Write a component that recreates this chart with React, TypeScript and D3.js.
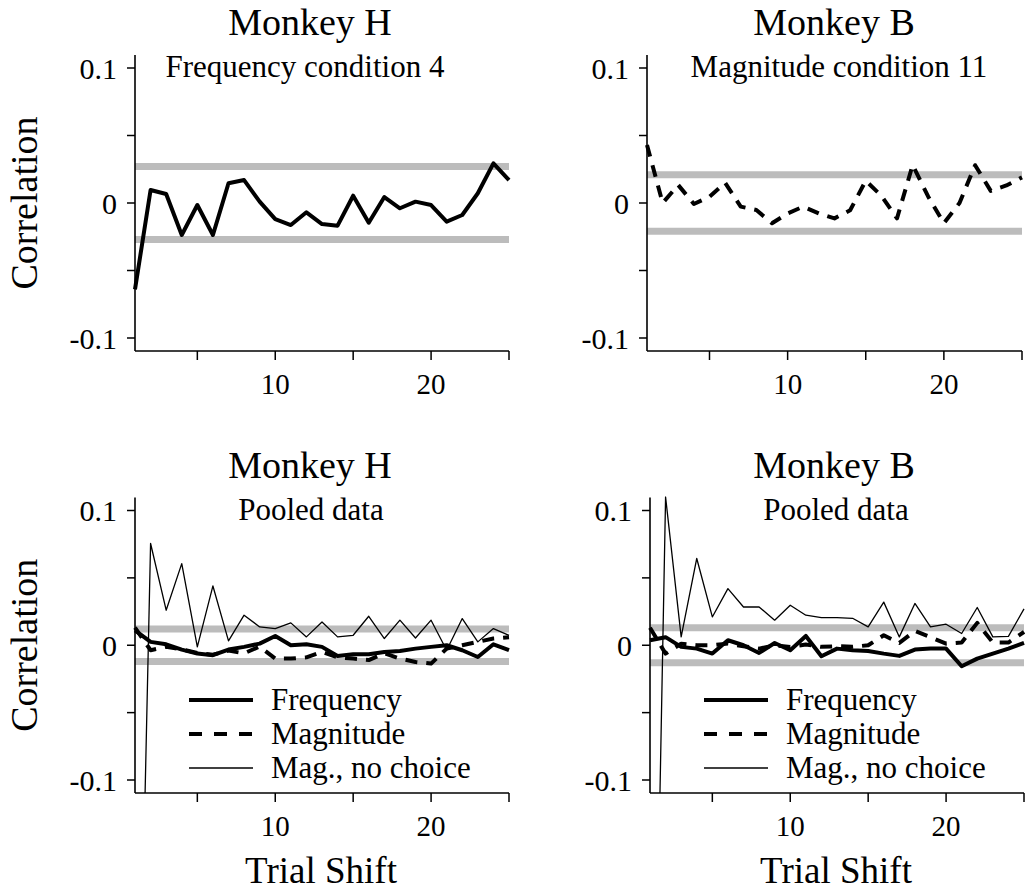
import React from "react";
import * as d3 from "d3";

const shifts = [1, 2, 3, 4, 5, 6, 7, 8, 9, 10, 11, 12, 13, 14, 15, 16, 17, 18, 19, 20, 21, 22, 23, 24, 25];

const hFreqCond4 = [-0.064, 0.0096, 0.0067, -0.0237, -0.0015, -0.0237, 0.0146, 0.017, 0.001, -0.012, -0.0163, -0.0069, -0.0156, -0.0168, 0.0054, -0.0146, 0.0044, -0.0039, 0.001, -0.0015, -0.0138, -0.0089, 0.0072, 0.0294, 0.017];
const bMagCond11 = [0.043, 0.0, 0.0133, -0.0007, 0.0046, 0.015, -0.0027, -0.0052, -0.015, -0.0077, -0.0027, -0.0077, -0.0114, -0.0054, 0.0165, 0.0054, -0.0114, 0.0281, 0.0047, -0.015, 0.0, 0.028, 0.009, 0.013, 0.019];

const hPooledFreq = [0.011, 0.0025, 0.0007, -0.0032, -0.0062, -0.0074, -0.0032, -0.0012, 0.0012, 0.0069, 0, 0.0007, -0.0012, -0.0079, -0.0067, -0.0067, -0.005, -0.0042, -0.0025, -0.0012, 0, -0.0037, -0.0087, 0.0007, -0.0037];
const hPooledMag = [0.013, -0.0037, -0.0012, -0.003, -0.0057, -0.007, -0.004, -0.006, -0.001, -0.0099, -0.0099, -0.009, -0.005, -0.009, -0.0099, -0.011, -0.006, -0.0099, -0.0124, -0.0136, -0.0025, 0, 0.0025, 0.005, 0.006];
const hPooledNoChoice = [-0.45, 0.0755, 0.026, 0.0606, -0.0012, 0.044, 0.0032, 0.0223, 0.0136, 0.0124, 0.0166, 0.0062, 0.0173, 0.0062, 0.0074, 0.0215, 0.005, 0.0186, 0.0054, 0.0186, -0.0037, 0.0198, 0.0025, 0.0124, 0.0074];

const bPooledFreq = [0.0037, 0.006, -0.0012, -0.0025, -0.0062, 0.0037, 0, -0.0057, 0.0017, -0.0037, 0.0069, -0.0082, -0.0025, -0.0037, -0.0042, -0.0062, -0.0079, -0.0032, -0.0025, -0.0025, -0.0156, -0.0099, -0.0062, -0.0025, 0.0017];
const bPooledMag = [0.013, -0.0062, 0.0012, 0, 0, 0.0012, -0.0007, -0.0025, 0, -0.0012, 0.0005, -0.0012, -0.0007, -0.0012, 0, 0.0074, 0.0017, 0.0106, 0.006, 0.0012, 0.002, 0.0166, 0.002, 0.002, 0.0099];
const bPooledNoChoice = [-0.5, 0.11, 0.0062, 0.0644, 0.021, 0.042, 0.0284, 0.0284, 0.0186, 0.0297, 0.0223, 0.0205, 0.0205, 0.02, 0.0136, 0.032, 0.0062, 0.031, 0.0136, 0.0156, 0.0087, 0.028, 0.0062, 0.0066, 0.027];

const yTicks = [-0.1, -0.05, 0, 0.05, 0.1];
const yTickLabels = ["-0.1", "", "0", "", "0.1"];
const xTicks = [5, 10, 15, 20, 25];
const xTickLabels = ["", "10", "", "20", ""];
const legendNames = ["Frequency", "Magnitude", "Mag., no choice"];

type Series = { values: number[]; kind: "freq" | "mag" | "nochoice" };
type Panel = {
  id: string;
  x0: number; x1: number; yPos: number; yNeg: number;
  title: string; subtitle: string; titleX: number; subX: number;
  band: number; series: Series[]; legend: boolean; xLabel: boolean;
};

const FONT = "'Liberation Serif', 'Times New Roman', serif";

const panels: Panel[] = [
  { id: "tl", x0: 135, x1: 509, yPos: 68, yNeg: 338, title: "Monkey H", subtitle: "Frequency condition 4", titleX: 310, subX: 305, band: 0.027, series: [{ values: hFreqCond4, kind: "freq" }], legend: false, xLabel: false },
  { id: "tr", x0: 647, x1: 1022, yPos: 68, yNeg: 338, title: "Monkey B", subtitle: "Magnitude condition 11", titleX: 834, subX: 839, band: 0.021, series: [{ values: bMagCond11, kind: "mag" }], legend: false, xLabel: false },
  { id: "bl", x0: 135, x1: 509, yPos: 510.5, yNeg: 780, title: "Monkey H", subtitle: "Pooled data", titleX: 310, subX: 311, band: 0.012, series: [{ values: hPooledNoChoice, kind: "nochoice" }, { values: hPooledMag, kind: "mag" }, { values: hPooledFreq, kind: "freq" }], legend: true, xLabel: true },
  { id: "br", x0: 650, x1: 1024, yPos: 510.5, yNeg: 780, title: "Monkey B", subtitle: "Pooled data", titleX: 834, subX: 836, band: 0.013, series: [{ values: bPooledNoChoice, kind: "nochoice" }, { values: bPooledMag, kind: "mag" }, { values: bPooledFreq, kind: "freq" }], legend: true, xLabel: true },
];

function styleFor(kind: string) {
  if (kind === "freq") return { strokeWidth: 4, dash: undefined as string | undefined };
  if (kind === "mag") return { strokeWidth: 4, dash: "12,9" };
  return { strokeWidth: 1.3, dash: undefined as string | undefined };
}

function PanelView({ p }: { p: Panel }) {
  const x = d3.scaleLinear().domain([1, 25]).range([p.x0, p.x1]);
  const y = d3.scaleLinear().domain([-0.1, 0.1]).range([p.yNeg, p.yPos]);
  const axisBottom = p.yNeg + 13;
  const axisTop = p.yPos - 13;
  const line = d3.line<number>().x((_, i) => x(shifts[i])).y((v) => y(v));
  const titleBase = p.yPos - 33;
  const subBase = p.yPos + 9;
  return (
    <g>
      <defs>
        <clipPath id={`clip-${p.id}`}>
          <rect x={p.x0 - 4} y={axisTop - 10} width={p.x1 - p.x0 + 12} height={axisBottom - axisTop + 10} />
        </clipPath>
      </defs>
      <text x={p.titleX} y={titleBase} textAnchor="middle" fontFamily={FONT} fontSize={38}>{p.title}</text>
      <text x={p.subX} y={subBase} textAnchor="middle" fontFamily={FONT} fontSize={31}>{p.subtitle}</text>
      {[p.band, -p.band].map((b, i) => (
        <line key={i} x1={x(1)} x2={x(25)} y1={y(b)} y2={y(b)} stroke="#bcbcbc" strokeWidth={7} />
      ))}
      <g clipPath={`url(#clip-${p.id})`}>
        {p.series.map((s, i) => {
          const st = styleFor(s.kind);
          return (
            <path key={i} d={line(s.values) || ""} fill="none" stroke="#000" strokeWidth={st.strokeWidth}
              strokeDasharray={st.dash} strokeLinejoin="round" strokeLinecap="butt" />
          );
        })}
      </g>
      <line x1={p.x0} x2={p.x0} y1={axisTop} y2={axisBottom} stroke="#000" strokeWidth={1.6} />
      <line x1={p.x0} x2={x(25)} y1={axisBottom} y2={axisBottom} stroke="#000" strokeWidth={1.6} />
      {yTicks.map((t, i) => (
        <g key={t}>
          <line x1={p.x0 - 8} x2={p.x0} y1={y(t)} y2={y(t)} stroke="#000" strokeWidth={1.5} />
          {yTickLabels[i] && (
            <text x={p.x0 - 18} y={y(t)} dy="0.35em" textAnchor="end" fontFamily={FONT} fontSize={30}>{yTickLabels[i]}</text>
          )}
        </g>
      ))}
      {xTicks.map((t, i) => (
        <g key={t}>
          <line x1={x(t)} x2={x(t)} y1={axisBottom} y2={axisBottom + 9} stroke="#000" strokeWidth={1.5} />
          {xTickLabels[i] && (
            <text x={x(t)} y={axisBottom + 43} textAnchor="middle" fontFamily={FONT} fontSize={29}>{xTickLabels[i]}</text>
          )}
        </g>
      ))}
      {p.xLabel && (
        <text x={(p.x0 + p.x1) / 2 - 1} y={axisBottom + 90} textAnchor="middle" fontFamily={FONT} fontSize={37}>Trial Shift</text>
      )}
      {p.legend && legendNames.map((name, i) => {
        const kinds = ["freq", "mag", "nochoice"];
        const st = styleFor(kinds[i]);
        const ly = p.yNeg - 80 + i * 34;
        const lx = p.x0 + 54;
        return (
          <g key={name}>
            <line x1={lx} x2={lx + 64} y1={ly} y2={ly} stroke="#000" strokeWidth={st.strokeWidth}
              strokeDasharray={kinds[i] === "mag" ? "13,12" : undefined} />
            <text x={lx + 82} y={ly + 10} fontFamily={FONT} fontSize={31}>{name}</text>
          </g>
        );
      })}
      {p.x0 < 300 && (
        <text transform={`translate(37, ${y(0)}) rotate(-90)`} textAnchor="middle" fontFamily={FONT} fontSize={38}>Correlation</text>
      )}
    </g>
  );
}

export default function App() {
  return (
    <svg width={1025} height={894} style={{ position: "absolute", left: 0, top: 0, background: "#fff" }}>
      <rect x={0} y={0} width={1025} height={894} fill="#fff" />
      {panels.map((p) => <PanelView key={p.id} p={p} />)}
    </svg>
  );
}
